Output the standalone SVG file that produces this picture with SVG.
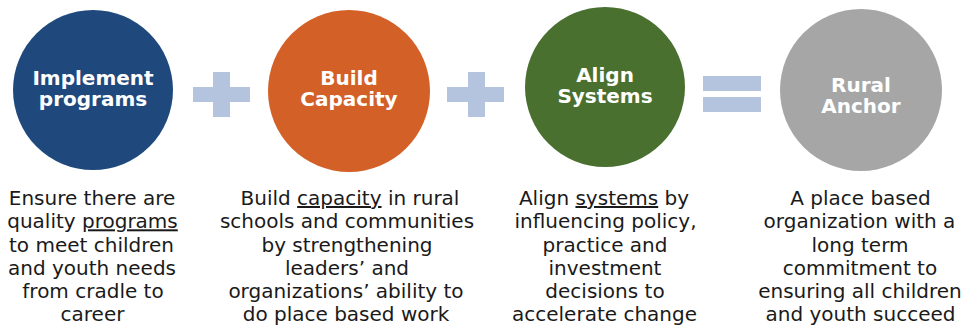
<svg xmlns="http://www.w3.org/2000/svg" width="963" height="328" viewBox="0 0 963 328">
<style>
.title{font-family:"DejaVu Sans",Verdana,sans-serif;font-weight:bold;font-size:20px;fill:#ffffff;text-anchor:middle}
.body{font-family:"DejaVu Sans",Verdana,sans-serif;font-size:20px;fill:#1a1a1a;text-anchor:middle}
.sym{fill:#b4c3de}
</style>
<rect width="963" height="328" fill="#ffffff"/>
<g id="connectors">
  <g id="plus1"><rect class="sym" x="193" y="87" width="57" height="15"/><rect class="sym" x="213" y="72" width="17" height="45"/></g>
  <g id="plus2"><rect class="sym" x="447" y="87" width="57" height="15"/><rect class="sym" x="468" y="72" width="17" height="45"/></g>
  <g id="equals"><rect class="sym" x="703" y="76" width="58" height="15"/><rect class="sym" x="703" y="97" width="58" height="15"/></g>
</g>
<g id="node-implement">
  <circle cx="93" cy="90" r="80" fill="#1f497d"/>
  <text class="title" x="93" y="85">Implement</text>
  <text class="title" x="93" y="106">programs</text>
  <text class="body" x="92" y="205">Ensure there are</text>
  <text class="body" x="92.5" y="228.3">quality <tspan text-decoration="underline">programs</tspan></text>
  <text class="body" x="91.5" y="251.5">to meet children</text>
  <text class="body" x="92" y="274.7">and youth needs</text>
  <text class="body" x="93" y="297.9">from cradle to</text>
  <text class="body" x="92.5" y="321">career</text>
</g>
<g id="node-build">
  <circle cx="349" cy="91" r="81" fill="#d36027"/>
  <text class="title" x="349" y="85">Build</text>
  <text class="title" x="349" y="106">Capacity</text>
  <text class="body" x="350" y="205">Build <tspan text-decoration="underline">capacity</tspan> in rural</text>
  <text class="body" x="347" y="228.3">schools and communities</text>
  <text class="body" x="347" y="251.5">by strengthening</text>
  <text class="body" x="347" y="274.7">leaders’ and</text>
  <text class="body" x="346" y="297.9">organizations’ ability to</text>
  <text class="body" x="346" y="321">do place based work</text>
</g>
<g id="node-align">
  <circle cx="605" cy="87" r="80" fill="#4a7030"/>
  <text class="title" x="605" y="82">Align</text>
  <text class="title" x="605" y="103">Systems</text>
  <text class="body" x="604" y="205">Align <tspan text-decoration="underline">systems</tspan> by</text>
  <text class="body" x="605.5" y="228.3">influencing policy,</text>
  <text class="body" x="605" y="251.5">practice and</text>
  <text class="body" x="605" y="274.7">investment</text>
  <text class="body" x="605" y="297.9">decisions to</text>
  <text class="body" x="604.5" y="321">accelerate change</text>
</g>
<g id="node-rural">
  <circle cx="861" cy="90" r="81" fill="#a6a6a6"/>
  <text class="title" x="861" y="92">Rural</text>
  <text class="title" x="861" y="113">Anchor</text>
  <text class="body" x="860.5" y="205">A place based</text>
  <text class="body" x="859.5" y="228.3">organization with a</text>
  <text class="body" x="860" y="251.5">long term</text>
  <text class="body" x="860" y="274.7">commitment to</text>
  <text class="body" x="860" y="297.9">ensuring all children</text>
  <text class="body" x="860.5" y="321">and youth succeed</text>
</g>
</svg>
